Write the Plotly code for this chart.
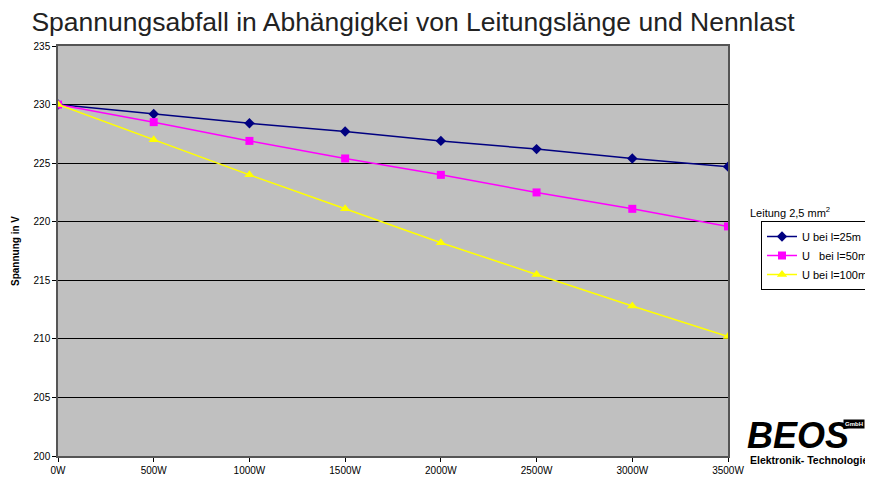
import plotly.graph_objects as go

x_labels = ["0W", "500W", "1000W", "1500W", "2000W", "2500W", "3000W", "3500W"]
u_25m = [230.0, 229.2, 228.4, 227.7, 226.9, 226.2, 225.4, 224.7]
u_50m = [230.0, 228.5, 226.9, 225.4, 224.0, 222.5, 221.1, 219.6]
u_100m = [230.0, 227.0, 224.0, 221.1, 218.2, 215.5, 212.8, 210.2]
y_ticks = [200, 205, 210, 215, 220, 225, 230, 235]

# page body has an 8px margin; figure is sized to compensate
W, H, OFF = 865, 470, 8

fig = go.Figure()
fig.add_trace(go.Scatter(x=x_labels, y=u_25m, mode="lines+markers", name="U bei l=25m",
                         line=dict(color="#000080", width=1.5),
                         marker=dict(symbol="diamond", size=8, color="#000080")))
fig.add_trace(go.Scatter(x=x_labels, y=u_50m, mode="lines+markers", name="U   bei l=50m",
                         line=dict(color="#FF00FF", width=1.5),
                         marker=dict(symbol="square", size=8, color="#FF00FF")))
fig.add_trace(go.Scatter(x=x_labels, y=u_100m, mode="lines+markers", name="U bei l=100m",
                         line=dict(color="#FFFF00", width=1.5),
                         marker=dict(symbol="triangle-up", size=9, color="#FFFF00")))

fig.update_layout(
    width=W, height=H,
    margin=dict(l=58 - OFF, r=145, t=46 - OFF, b=22, autoexpand=False),
    paper_bgcolor="white",
    plot_bgcolor="#C0C0C0",
    font=dict(family="Liberation Sans, Arial", size=11, color="black"),
    title=dict(text="Spannungsabfall in Abhängigkei von Leitungslänge und Nennlast",
               x=(413 - OFF) / W, xref="container", xanchor="center",
               y=1 - (22 - OFF) / H, yanchor="middle",
               font=dict(family="Liberation Sans, Arial", size=26.5, color="#222222")),
    showlegend=True,
    legend=dict(xref="container", yref="container", x=(761 - OFF) / W, y=1 - (221 - OFF) / H,
                xanchor="left", yanchor="top",
                bgcolor="white", bordercolor="black", borderwidth=1,
                font=dict(size=11), tracegroupgap=0),
    xaxis=dict(type="category", range=[0, 7], showgrid=False, showline=True, automargin=False,
               linecolor="#555555", linewidth=1.5, mirror=True, ticks="outside",
               ticklen=4, tickcolor="black", tickfont=dict(size=10), zeroline=False),
    yaxis=dict(range=[200, 235], tickvals=y_ticks, showgrid=True, gridcolor="black",
               gridwidth=1, showline=True, linecolor="#555555", linewidth=1.5, mirror=True,
               ticks="outside", ticklen=4, tickcolor="black", tickfont=dict(size=10),
               zeroline=False, automargin=False,
               title=dict(text="<b>Spannung in V</b>", font=dict(size=10), standoff=12)),
)

fig.add_annotation(text="Leitung 2,5 mm<sup>2</sup>", xref="paper", yref="paper",
                   x=1.03, y=0.595, xanchor="left", yanchor="middle", showarrow=False,
                   font=dict(size=11))
fig.add_annotation(text="<b><i>BEOS</i></b>", xref="paper", yref="paper",
                   x=1.025, y=0.051, xanchor="left", yanchor="middle", showarrow=False,
                   font=dict(family="Liberation Sans, Arial", size=36, color="black"))
fig.add_annotation(text="<b>GmbH</b>", xref="paper", yref="paper",
                   x=1.172, y=0.078, xanchor="left", yanchor="middle", showarrow=False,
                   font=dict(size=6, color="white"), bgcolor="black")
fig.add_annotation(text="<b>Elektronik- Technologie</b>", xref="paper", yref="paper",
                   x=1.03, y=-0.01, xanchor="left", yanchor="middle", showarrow=False,
                   font=dict(size=10.5, color="black"))

fig.write_html("out.html")
